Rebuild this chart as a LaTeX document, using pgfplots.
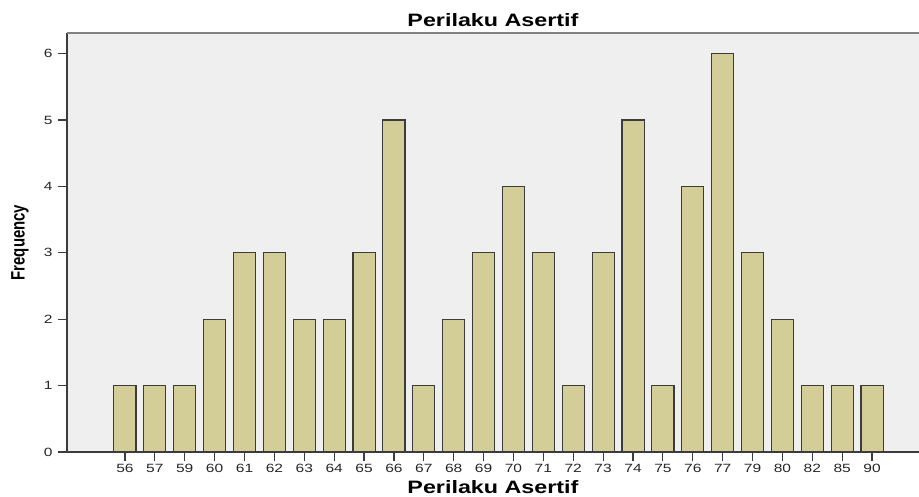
\documentclass[border=0pt]{standalone}
\usepackage{graphicx}
\usepackage{pgfplots}
\pgfplotsset{compat=1.18}
\usepackage{fontspec}
\setmainfont{Liberation Sans}
\definecolor{bgc}{HTML}{EFEFEF}
\definecolor{barc}{HTML}{D3CE97}
\definecolor{edgec}{HTML}{3C3C3C}
\newcommand\tl[1]{\scalebox{1.3}[1]{#1}}
\begin{document}
\begin{tikzpicture}
\begin{axis}[
  scale only axis,
  width=852bp, height=419bp,
  xmin=-1.94, xmax=26.57,
  ymin=0, ymax=6.31,
  axis background/.style={fill=bgc},
  axis x line*=bottom, axis y line*=left,
  axis line style={draw=edgec, line width=1.2pt},
  xtick={0,...,25},
  xticklabels={\tl{56},\tl{57},\tl{59},\tl{60},\tl{61},\tl{62},\tl{63},\tl{64},\tl{65},\tl{66},\tl{67},\tl{68},\tl{69},\tl{70},\tl{71},\tl{72},\tl{73},\tl{74},\tl{75},\tl{76},\tl{77},\tl{79},\tl{80},\tl{82},\tl{85},\tl{90}},
  ytick={0,1,2,3,4,5,6},
  yticklabel={\tl{\pgfmathprintnumber{\tick}}},
  tick align=outside,
  major tick length=9bp,
  tick style={draw=edgec, line width=1.2pt},
  /pgf/number format/assume math mode=true,
  ticklabel style={font=\fontsize{12}{14}\selectfont, text=black!85},
  yticklabel style={xshift=-2bp},
  title={\scalebox{1.3}[1]{\textbf{Perilaku Asertif}}},
  every axis title/.style={at={(rel axis cs:0.5,1)}, anchor=base, yshift=6bp, font=\fontsize{18}{20}\selectfont},
  xlabel={\scalebox{1.3}[1]{\textbf{Perilaku Asertif}}},
  every axis x label/.style={at={(rel axis cs:0.5,0)}, anchor=base, yshift=-41bp, font=\fontsize{18}{20}\selectfont},
  ylabel={\scalebox{1}[1.3]{\textbf{Frequency}}},
  every axis y label/.style={at={(rel axis cs:0,0.5)}, xshift=-47bp, rotate=90, anchor=center, font=\fontsize{15}{17}\selectfont},
]
\draw[draw=gray, line width=1.2pt] (rel axis cs:0,1) -- (rel axis cs:1,1);
\addplot[ybar, bar width=0.74, fill=barc, draw=edgec, line width=1.1pt] coordinates {
(0,1) (1,1) (2,1) (3,2) (4,3) (5,3) (6,2) (7,2) (8,3) (9,5) (10,1) (11,2) (12,3)
(13,4) (14,3) (15,1) (16,3) (17,5) (18,1) (19,4) (20,6) (21,3) (22,2) (23,1) (24,1) (25,1)};
\end{axis}
\path (current axis.south west) ++(-67bp,-45bp) coordinate (bbA);
\path (current axis.north east) ++(0bp,33bp) coordinate (bbB);
\pgfresetboundingbox
\useasboundingbox (bbA) rectangle (bbB);
\end{tikzpicture}
\end{document}
